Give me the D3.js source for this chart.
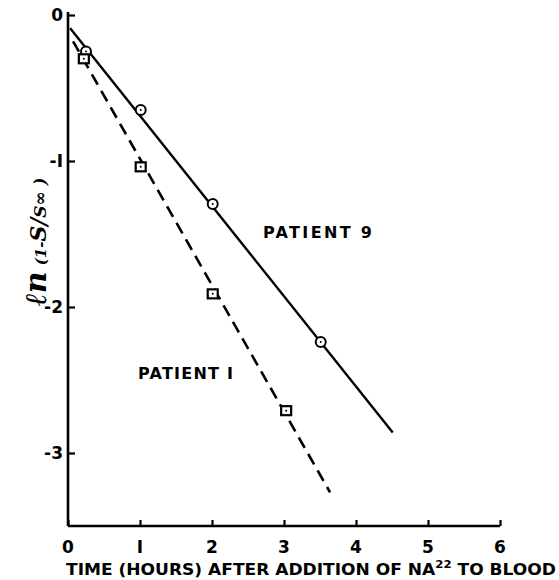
<!DOCTYPE html>
<html>
<head>
<meta charset="utf-8">
<script src="https://cdn.jsdelivr.net/npm/d3@7"></script>
<style>
  body { margin: 0; background: #fff; }
  svg { display: block; }
  .tick-label { font-family: "DejaVu Sans", sans-serif; font-weight: bold; font-size: 17px; }
  .lbl { font-family: "DejaVu Sans", sans-serif; font-weight: bold; font-size: 16px; }
</style>
</head>
<body>
<div id="chart"></div>
<script>
// measured points, ln(1 - S/S_inf) vs time (hours)
const patient9 = [[0.25, -0.25], [1.01, -0.65], [2.01, -1.295], [3.51, -2.24]];
const patient1 = [[0.22, -0.30], [1.01, -1.04], [2.01, -1.91], [3.03, -2.71]];
// fitted lines
const fit9 = [[0.03, -0.09], [4.51, -2.86]];
const fit1 = [[0.07, -0.18], [3.64, -3.27]];
const xTicks = [0, 1, 2, 3, 4, 5, 6];
const yTicks = [0, -1, -2, -3];

const W = 559, H = 580;
const svg = d3.select("#chart").append("svg").attr("width", W).attr("height", H);

const x = d3.scaleLinear().domain([0, 6]).range([68, 500]);
const y = d3.scaleLinear().domain([0, -3.5]).range([15, 526]);

// axes
const xAxis = d3.axisBottom(x).tickValues(xTicks).tickSize(-6).tickFormat("");
const gx = svg.append("g").attr("transform", `translate(0,${y(-3.5)})`).call(xAxis);
const yAxis = d3.axisLeft(y).tickValues(yTicks).tickSize(-7).tickFormat("");
const gy = svg.append("g").attr("transform", `translate(${x(0)},0)`).call(yAxis);
[gx, gy].forEach(g => {
  g.select(".domain").remove();
  g.selectAll("line").attr("stroke", "#000").attr("stroke-width", 2.2);
});
svg.append("line").attr("x1", x(0)).attr("x2", x(6)).attr("y1", y(-3.5)).attr("y2", y(-3.5))
  .attr("stroke", "#000").attr("stroke-width", 2.6);
svg.append("line").attr("x1", x(0)).attr("x2", x(0)).attr("y1", y(0) - 3).attr("y2", y(-3.5))
  .attr("stroke", "#000").attr("stroke-width", 2.6);

// tick labels
svg.selectAll(".xt").data(xTicks).join("text").attr("class", "tick-label")
  .attr("x", d => x(d)).attr("y", 553).attr("text-anchor", "middle")
  .text(d => d === 1 ? "I" : d);
svg.selectAll(".yt").data(yTicks).join("text").attr("class", "tick-label")
  .attr("x", x(0) - 5).attr("y", d => y(d) + 6).attr("text-anchor", "end")
  .text(d => d === 0 ? "0" : (d === -1 ? "-I" : "-" + Math.abs(d)));

// lines
const line = d3.line().x(d => x(d[0])).y(d => y(d[1]));
svg.append("path").attr("d", line(fit9)).attr("fill", "none")
  .attr("stroke", "#000").attr("stroke-width", 2.4);
svg.append("path").attr("d", line(fit1)).attr("fill", "none")
  .attr("stroke", "#000").attr("stroke-width", 2.6).attr("stroke-dasharray", "12,7");

// markers
svg.selectAll(".c9").data(patient9).join("circle")
  .attr("cx", d => x(d[0])).attr("cy", d => y(d[1])).attr("r", 5)
  .attr("fill", "#fff").attr("stroke", "#000").attr("stroke-width", 2);
svg.selectAll(".s1").data(patient1).join("rect")
  .attr("x", d => x(d[0]) - 5).attr("y", d => y(d[1]) - 4.5).attr("width", 10).attr("height", 9)
  .attr("fill", "#fff").attr("stroke", "#000").attr("stroke-width", 2.2);
svg.selectAll(".dot").data(patient9.concat(patient1)).join("circle")
  .attr("cx", d => x(d[0])).attr("cy", d => y(d[1])).attr("r", 1).attr("fill", "#000");

// annotations
svg.append("text").attr("class", "lbl").attr("x", 263).attr("y", 238)
  .attr("textLength", 109).attr("lengthAdjust", "spacing").text("PATIENT  9");
svg.append("text").attr("class", "lbl").attr("x", 138).attr("y", 379)
  .attr("textLength", 95).attr("lengthAdjust", "spacing").text("PATIENT  I");

// x axis title
const xt = svg.append("text").attr("class", "lbl").attr("x", 66).attr("y", 575)
  .attr("textLength", 490).attr("lengthAdjust", "spacingAndGlyphs");
xt.append("tspan").text("TIME (HOURS) AFTER ADDITION OF NA");
xt.append("tspan").attr("dy", -7).attr("font-size", 11).text("22");
xt.append("tspan").attr("dy", 7).text(" TO BLOOD");

// y axis title
const yt = svg.append("text").attr("transform", "translate(46,306) rotate(-90)")
  .attr("font-family", "DejaVu Serif, serif").attr("font-style", "italic").attr("font-weight", "bold");
yt.append("tspan").attr("font-size", 30).text("ℓn");
yt.append("tspan").attr("font-size", 15).attr("dx", 6).text("(1-");
yt.append("tspan").attr("font-size", 22).text("S");
yt.append("tspan").attr("font-size", 22).text("/");
yt.append("tspan").attr("font-size", 17).text("S∞");
yt.append("tspan").attr("font-size", 16).attr("dx", 6).text(")");
</script>
</body>
</html>
